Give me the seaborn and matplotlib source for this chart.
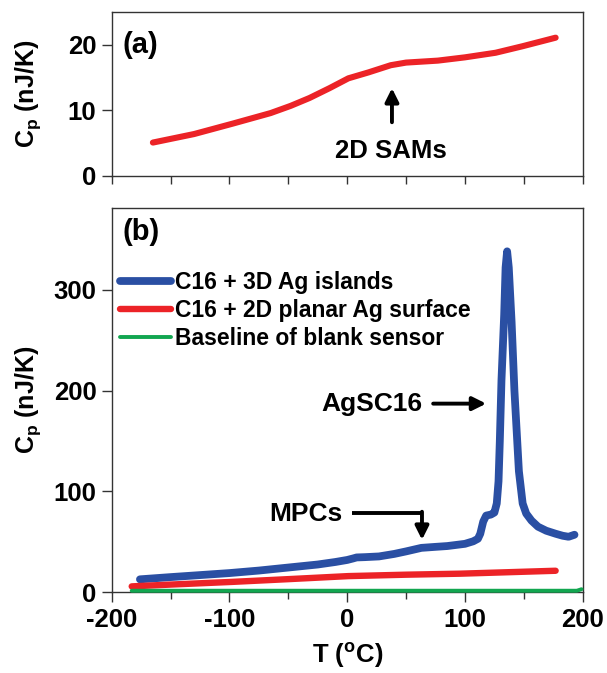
import matplotlib
matplotlib.use("Agg")
import matplotlib.pyplot as plt
import seaborn as sns
import pandas as pd
from matplotlib.lines import Line2D

# ---------------- data ----------------
# panel (a): C16 SAM on 2D planar Ag
a_T = [-165, -130, -97, -65, -48, -32, -15, 1, 18, 37, 50, 77, 100, 126, 149, 177]
a_Cp = [5.1, 6.4, 8.0, 9.6, 10.7, 11.9, 13.4, 14.9, 15.8, 16.9, 17.3, 17.6, 18.1, 18.8, 19.8, 21.1]

# panel (b)
blue_T = [-176, -150, -125, -100, -75, -50, -25, -10, 0, 5, 8, 15, 27, 40, 50, 63, 75, 85,
          100, 107, 111, 113, 115.5, 118, 122, 125, 127, 128.5, 129.6, 131, 133.3, 134.5, 135.8,
          137.2, 139.6, 142, 145.8, 149, 152, 156.5, 162, 169, 177, 183, 188, 193]
blue_Cp = [12.8, 15, 17, 19, 21.5, 24.5, 27.5, 30, 32, 33.5, 34.5, 34.8, 35.5, 38, 40.5, 44, 45, 45.8,
           48, 50.5, 53, 58, 70, 76, 77, 79, 88, 110, 150, 210, 275, 322, 338,
           322, 268, 200, 120, 88, 78, 71, 65, 61, 58, 56, 55, 57]

red_T = [-183, -150, -97, -48, 1, 50, 96, 177]
red_Cp = [5.8, 7.6, 10.3, 13.1, 16.0, 17.4, 18.4, 21.3]

green_T = [-183, -100, 0, 100, 195, 199]
green_Cp = [1.5, 1.5, 1.5, 1.5, 1.5, 3.0]

series_labels = ["C16 + 3D Ag islands", "C16 + 2D planar Ag surface", "Baseline of blank sensor"]
x_ticks = [-200, -100, 0, 100, 200]
x_minor = [-150, -50, 50, 150]
a_yticks = [0, 10, 20]
b_yticks = [0, 100, 200, 300]

# ---------------- style ----------------
sns.set_style("ticks")
plt.rcParams["font.family"] = ["Liberation Sans", "DejaVu Sans"]
plt.rcParams["font.weight"] = "bold"
plt.rcParams["axes.labelweight"] = "bold"
plt.rcParams["axes.unicode_minus"] = False
plt.rcParams["text.color"] = "black"
plt.rcParams["axes.labelcolor"] = "black"
plt.rcParams["xtick.color"] = "black"
plt.rcParams["ytick.color"] = "black"
plt.rcParams["mathtext.fontset"] = "custom"
plt.rcParams["mathtext.rm"] = "Liberation Sans:bold"
plt.rcParams["mathtext.it"] = "Liberation Sans:bold"
plt.rcParams["mathtext.bf"] = "Liberation Sans:bold"

BLUE = "#2a4fa3"
RED = "#ec2327"
GREEN = "#12a650"

fig = plt.figure(figsize=(6.07, 6.73), dpi=100)
L, W = 0.184, 0.776
ax_a = fig.add_axes([L, 0.7385, W, 0.2435])
ax_b = fig.add_axes([L, 0.120, W, 0.571])

TICK_FS = 18.5
for ax in (ax_a, ax_b):
    for s in ax.spines.values():
        s.set_linewidth(1.0)
        s.set_color("#333333")
        s.set_visible(True)
    ax.tick_params(axis="both", direction="out", length=7, width=1.0, pad=4,
                   labelsize=TICK_FS, color="#333333", labelcolor="black")
    ax.tick_params(which="minor", direction="out", length=5, width=1.0, color="#333333")
    ax.set_xlim(-200, 200)

# panel (a)
sns.lineplot(x=a_T, y=a_Cp, ax=ax_a, color=RED, lw=4.4, sort=False,
             solid_capstyle="round")
ax_a.set_ylim(0, 25)
ax_a.set_yticks(a_yticks)
ax_a.set_xticks(x_ticks)
ax_a.set_xticks(x_minor, minor=True)
ax_a.tick_params(axis="x", which="both", length=6, labelbottom=False)
ax_a.set_ylabel("C$_\\mathrm{p}$ (nJ/K)", fontsize=18, fontweight="bold")
ax_a.yaxis.set_label_coords(-0.146, 0.5)
ax_a.text(-191, 20, "(a)", fontsize=21, fontweight="bold", va="center", ha="left")
ax_a.annotate("", xy=(38, 13.4), xytext=(38, 8.2),
              arrowprops=dict(arrowstyle="-|>", lw=2.8, color="k", mutation_scale=20,
                              shrinkA=0, shrinkB=0))
ax_a.text(37, 3.8, "2D SAMs", fontsize=18.5, fontweight="bold", ha="center", va="center")

# panel (b)
df = pd.concat([
    pd.DataFrame({"T": blue_T, "Cp": blue_Cp, "s": series_labels[0]}),
    pd.DataFrame({"T": red_T, "Cp": red_Cp, "s": series_labels[1]}),
    pd.DataFrame({"T": green_T, "Cp": green_Cp, "s": series_labels[2]}),
])
sns.lineplot(data=df, x="T", y="Cp", hue="s", hue_order=series_labels,
             palette=[BLUE, RED, GREEN], ax=ax_b, sort=False, legend=False)
LWS = [5.6, 4.6, 2.8]
for ln, lw in zip(ax_b.get_lines(), LWS):
    ln.set_linewidth(lw)
    ln.set_solid_capstyle("round")
    ln.set_solid_joinstyle("round")
    ln.set_zorder(3)
    ln.set_clip_on(False)

ax_b.set_ylim(0, 381)
ax_b.set_yticks(b_yticks)
ax_b.set_xticks(x_ticks)
ax_b.set_xticks(x_minor, minor=True)
ax_b.set_xlabel("T ($^\\mathrm{o}$C)", fontsize=18.5, fontweight="bold", labelpad=7)
ax_b.set_ylabel("C$_\\mathrm{p}$ (nJ/K)", fontsize=18, fontweight="bold")
ax_b.yaxis.set_label_coords(-0.146, 0.5)
ax_b.text(-191, 357, "(b)", fontsize=21, fontweight="bold", va="center", ha="left")

handles = [Line2D([0], [0], color=c, lw=lw, solid_capstyle="round")
           for c, lw in zip([BLUE, RED, GREEN], LWS)]
ax_b.legend(handles, series_labels, loc="upper left", bbox_to_anchor=(0.018, 0.835),
            frameon=False, handlelength=2.2, handletextpad=0.2,
            labelspacing=0.2, borderpad=0, borderaxespad=0,
            prop={"weight": "bold", "size": 16.5})

ax_b.text(21, 187, "AgSC16", fontsize=19, fontweight="bold", ha="center", va="center")
ax_b.annotate("", xy=(118, 187), xytext=(73, 187),
              arrowprops=dict(arrowstyle="-|>", lw=2.8, color="k", mutation_scale=20,
                              shrinkA=0, shrinkB=0))
ax_b.text(-35, 78, "MPCs", fontsize=19, fontweight="bold", ha="center", va="center")
ax_b.plot([4, 63.5], [78.5, 78.5], color="k", lw=2.8, solid_capstyle="butt")
ax_b.annotate("", xy=(63.5, 52), xytext=(63.5, 79.8),
              arrowprops=dict(arrowstyle="-|>", lw=2.8, color="k", mutation_scale=20,
                              shrinkA=0, shrinkB=0))

fig.savefig("out.png", dpi=100)
